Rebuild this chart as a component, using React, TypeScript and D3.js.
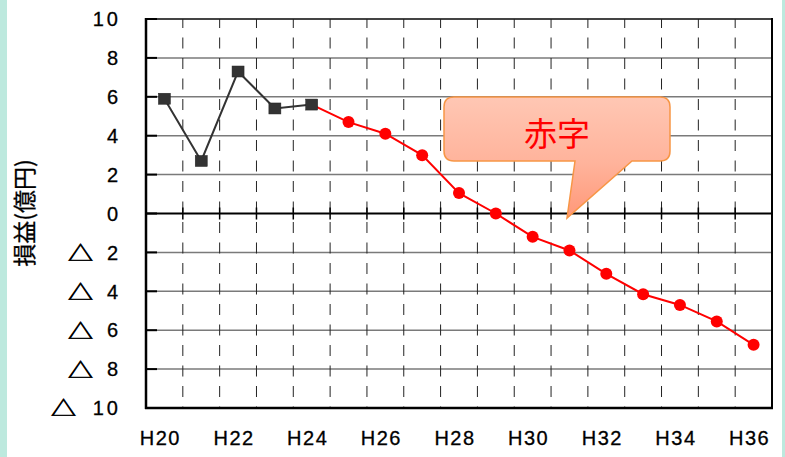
import React from "react";
import * as d3 from "d3";

const categories = ["H20","H21","H22","H23","H24","H25","H26","H27","H28","H29","H30","H31","H32","H33","H34","H35","H36"];
const actualCats = ["H20","H21","H22","H23","H24"];
const actualValues = [5.9, 2.7, 7.3, 5.4, 5.6];
const forecastCats = ["H24","H25","H26","H27","H28","H29","H30","H31","H32","H33","H34","H35","H36"];
const forecastValues = [5.6, 4.7, 4.1, 3.0, 1.05, 0.0, -1.2, -1.9, -3.1, -4.15, -4.7, -5.55, -6.75];
const yTicks = [10, 8, 6, 4, 2, 0, -2, -4, -6, -8, -10];
const xLabelCats = ["H20","H22","H24","H26","H28","H30","H32","H34","H36"];
const yTitle = "損益(億円)";
const calloutText = "赤字";

const W = 785, H = 457;
const L = 146, R = 772, T = 19, B = 408;

export default function App() {
  const x = d3.scaleBand<string>().domain(categories).range([L, R]).paddingInner(0).paddingOuter(0);
  const y = d3.scaleLinear().domain([-10, 10]).range([B, T]);
  const bw = x.bandwidth();
  const cx = (c: string) => (x(c) as number) + bw / 2;
  const line = d3.line<[string, number]>().x(d => cx(d[0])).y(d => y(d[1]));
  const actual: [string, number][] = actualCats.map((c, i) => [c, actualValues[i]]);
  const forecast: [string, number][] = forecastCats.map((c, i) => [c, forecastValues[i]]);
  const boundaries = categories.slice(1).map(c => x(c) as number);
  const y0 = y(0);
  const font = "'Liberation Sans', Arial, sans-serif";
  const jp = "'Noto Sans CJK JP', sans-serif";

  return (
    <svg width={W} height={H} style={{ position: "absolute", left: 0, top: 0, background: "#fff" }}>
      <defs>
        <linearGradient id="cg" x1="0" y1="97" x2="0" y2="218" gradientUnits="userSpaceOnUse">
          <stop offset="0" stopColor="#FFC7B4" />
          <stop offset="0.55" stopColor="#FFB39B" />
          <stop offset="1" stopColor="#FF9878" />
        </linearGradient>
      </defs>
      <rect x={0} y={0} width={W} height={H} fill="#fff" />
      <rect x={0} y={0} width={7} height={H} fill="#BDE9DE" />
      <rect x={782} y={0} width={3} height={H} fill="#BDE9DE" />

      {yTicks.filter(t => t !== 0 && t !== 10 && t !== -10).map(t => (
        <line key={"g" + t} x1={L} x2={R} y1={y(t)} y2={y(t)} stroke="#7a7a7a" strokeWidth={1.5} />
      ))}
      <line x1={L} x2={R} y1={y(10)} y2={y(10)} stroke="#444" strokeWidth={1.8} />

      {boundaries.map((bx, i) => (
        <line key={"v" + i} x1={bx} x2={bx} y1={T} y2={B} stroke="#222" strokeWidth={1}
          strokeDasharray="11,9.5" strokeDashoffset={2} />
      ))}

      <line x1={L} x2={R} y1={y0} y2={y0} stroke="#000" strokeWidth={2} />
      {boundaries.map((bx, i) => (
        <line key={"zt" + i} x1={bx} x2={bx} y1={y0 - 6} y2={y0 + 6} stroke="#000" strokeWidth={1.5} />
      ))}

      <line x1={R} x2={R} y1={T - 1} y2={B + 1} stroke="#000" strokeWidth={2} />
      <line x1={L - 1} x2={R + 1} y1={B} y2={B} stroke="#000" strokeWidth={2.5} />
      <line x1={L} x2={L} y1={T - 1} y2={B + 1} stroke="#000" strokeWidth={2.5} />
      {yTicks.map(t => (
        <line key={"yt" + t} x1={L} x2={L + 11} y1={y(t)} y2={y(t)} stroke="#000" strokeWidth={2} />
      ))}

      {yTicks.map(t => {
        const s = String(Math.abs(t));
        const digitsW = s.length === 1 ? 12 : 29;
        return (
          <g key={"yl" + t}>
            <text x={121} y={y(t)} dy="0.36em" textAnchor="end" fontFamily={font} fontSize={20}
              letterSpacing={3} fill="#000" stroke="#000" strokeWidth={0.3}>{s}</text>
            {t < 0 && (
              <text x={118 - digitsW - 13 - 25} y={y(t)} dy="0.42em" fontFamily={jp} fontSize={20}
                textLength={25} lengthAdjust="spacingAndGlyphs" fill="#000" stroke="#000" strokeWidth={0.7}>△</text>
            )}
          </g>
        );
      })}

      {xLabelCats.map(c => (
        <text key={"xl" + c} x={cx(c) - 4} y={445} textAnchor="middle" fontFamily={font} fontSize={20}
          letterSpacing={1.5} fill="#000" stroke="#000" strokeWidth={0.3}>{c}</text>
      ))}

      <text transform={`translate(33,213) rotate(-90)`} textAnchor="middle" fontFamily={jp} fontSize={23}
        fill="#000" stroke="#000" strokeWidth={0.3}>{yTitle}</text>

      <path d={line(forecast) as string} fill="none" stroke="#FF0000" strokeWidth={2} />
      {forecast.slice(1).map(d => (
        <circle key={"f" + d[0]} cx={cx(d[0])} cy={y(d[1])} r={6} fill="#FF0000" />
      ))}

      <path d={line(actual) as string} fill="none" stroke="#333" strokeWidth={2} />
      {actual.map(d => (
        <rect key={"a" + d[0]} x={cx(d[0]) - 6} y={y(d[1]) - 5.5} width={12} height={11} fill="#333" stroke="#222" strokeWidth={0.5} />
      ))}

      <path d="M454,97 H660 Q670,97 670,107 V151 Q670,161 660,161 H632 L567,218 L575,161 H454 Q444,161 444,151 V107 Q444,97 454,97 Z"
        fill="url(#cg)" stroke="#F79646" strokeWidth={1.5} />
      <text x={557} y={132} dominantBaseline="central" textAnchor="middle" fontFamily={jp} fontSize={33} fill="#FF0000">{calloutText}</text>
    </svg>
  );
}
